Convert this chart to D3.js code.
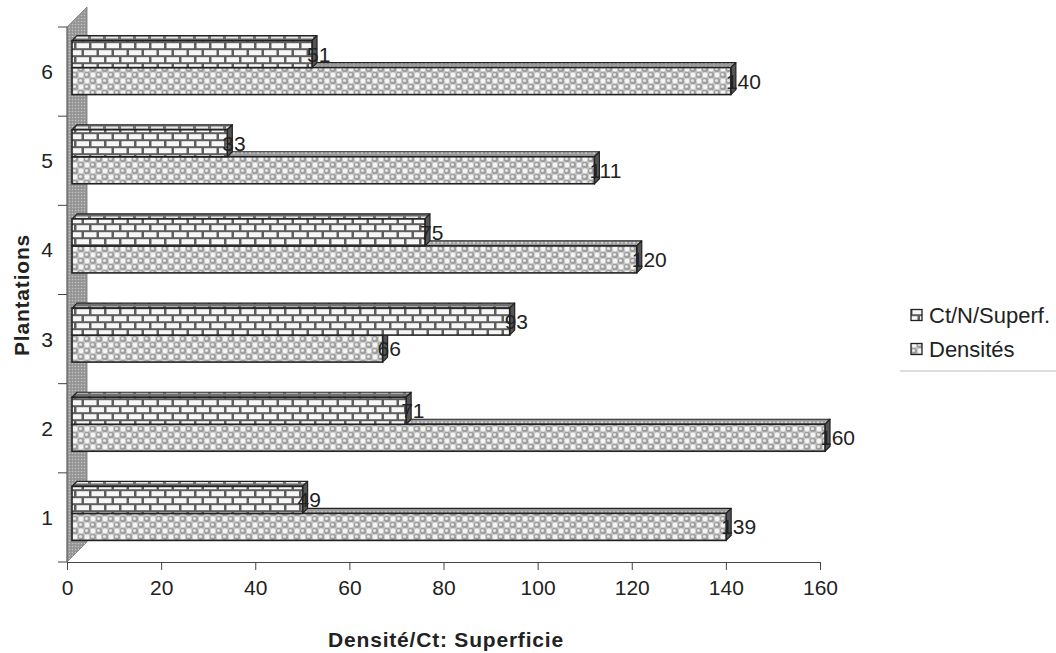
<!DOCTYPE html>
<html>
<head>
<meta charset="utf-8">
<script src="https://cdn.jsdelivr.net/npm/d3@7/dist/d3.min.js"></script>
<style>
  html, body { margin: 0; padding: 0; background: #fff; }
  svg { display: block; }
  text { font-family: "Liberation Sans", Arial, sans-serif; fill: #222; }
</style>
</head>
<body>
<svg id="chart" width="1056" height="653"></svg>
<script>
// Plantations, bottom to top
const categories = ["1", "2", "3", "4", "5", "6"];
// Ct/N/Superf. per plantation
const ctValues = [49, 71, 93, 75, 33, 51];
// Densités per plantation
const densValues = [139, 160, 66, 120, 111, 140];
const xTicks = [0, 20, 40, 60, 80, 100, 120, 140, 160];
const seriesNames = ["Ct/N/Superf.", "Densités"];
const xTitle = "Densité/Ct: Superficie";
const yTitle = "Plantations";

const svg = d3.select("#chart");
const defs = svg.append("defs");

// ---- fill patterns ----
// brick face
const brick = defs.append("pattern").attr("id", "brick")
  .attr("patternUnits", "userSpaceOnUse").attr("width", 15).attr("height", 14);
brick.append("rect").attr("width", 15).attr("height", 14).attr("fill", "#5e5e5e");
[[1.5, 1.2], [-6, 8.2], [9, 8.2]].forEach(([bx, by]) =>
  brick.append("rect").attr("x", bx).attr("y", by).attr("width", 12.5).attr("height", 5).attr("fill", "#f6f6f6"));

// brick top face (foreshortened)
const brickTop = defs.append("pattern").attr("id", "brickTop")
  .attr("patternUnits", "userSpaceOnUse").attr("width", 15).attr("height", 5);
brickTop.append("rect").attr("width", 15).attr("height", 5).attr("fill", "#707070");
brickTop.append("rect").attr("x", 1).attr("y", 1.5).attr("width", 12).attr("height", 2).attr("fill", "#e8e8e8");

// mottled face for Densités
const bub = defs.append("pattern").attr("id", "bubble")
  .attr("patternUnits", "userSpaceOnUse").attr("width", 12).attr("height", 12);
bub.append("rect").attr("width", 12).attr("height", 12).attr("fill", "#c6c6c6");
[[3, 3], [9, 9]].forEach(([cx, cy]) => {
  bub.append("circle").attr("cx", cx).attr("cy", cy).attr("r", 3.2).attr("fill", "#9e9e9e");
  bub.append("circle").attr("cx", cx - 0.5).attr("cy", cy - 0.5).attr("r", 1.6).attr("fill", "#e6e6e6");
});
[[9, 3], [3, 9]].forEach(([cx, cy]) =>
  bub.append("circle").attr("cx", cx).attr("cy", cy).attr("r", 2.4).attr("fill", "#f4f4f4"));

const bubTop = defs.append("pattern").attr("id", "bubbleTop")
  .attr("patternUnits", "userSpaceOnUse").attr("width", 8).attr("height", 5);
bubTop.append("rect").attr("width", 8).attr("height", 5).attr("fill", "#9a9a9a");
bubTop.append("circle").attr("cx", 2).attr("cy", 2.5).attr("r", 1.3).attr("fill", "#d8d8d8");
bubTop.append("circle").attr("cx", 6).attr("cy", 2.5).attr("r", 1.3).attr("fill", "#c4c4c4");

// grainy wall
const wallP = defs.append("pattern").attr("id", "wall")
  .attr("patternUnits", "userSpaceOnUse").attr("width", 3).attr("height", 3);
wallP.append("rect").attr("width", 3).attr("height", 3).attr("fill", "#9c9c9c");
wallP.append("rect").attr("x", 0).attr("y", 0).attr("width", 1).attr("height", 1).attr("fill", "#c4c4c4");
wallP.append("rect").attr("x", 1.5).attr("y", 1.5).attr("width", 1).attr("height", 1).attr("fill", "#7e7e7e");

// ---- scales ----
const x = d3.scaleLinear().domain([0, 160]).range([67, 820]);
const y = d3.scaleBand().domain(categories).range([562, 27]);
const floorY = 562;

// depth offsets for the oblique 3-D look
const wallDepth = { x: 20, y: -20 };
const barShift = { x: 5, y: -4 };
const barDepth = { x: 5, y: -5 };
const barH = 27;

// ---- wall ----
const x0 = x(0), yTop = y.range()[1];
svg.append("path")
  .attr("d", `M${x0},${floorY} L${x0},${yTop} L${x0 + wallDepth.x},${yTop + wallDepth.y} L${x0 + wallDepth.x},${floorY + wallDepth.y} Z`)
  .attr("fill", "url(#wall)").attr("stroke", "#777").attr("stroke-width", 0.8);

// ---- x axis ----
const xAxis = svg.append("g").attr("transform", `translate(0,${floorY})`)
  .call(d3.axisBottom(x).tickValues(xTicks).tickSize(8).tickPadding(10).tickFormat(d3.format("d")));
xAxis.select(".domain").attr("stroke", "#444").attr("stroke-width", 1);
xAxis.selectAll(".tick line").attr("stroke", "#444");
xAxis.selectAll(".tick text").style("font-size", "21px").attr("fill", "#222")
  .style("font-family", '"Liberation Sans", Arial, sans-serif');

// ---- category axis: ticks at band edges, labels at centres ----
const edges = categories.map(c => y(c)).concat([floorY]);
svg.append("g").selectAll("line").data(edges).join("line")
  .attr("x1", x0 - 9).attr("x2", x0).attr("y1", d => d).attr("y2", d => d)
  .attr("stroke", "#444");
svg.append("line").attr("x1", x0).attr("x2", x0).attr("y1", yTop).attr("y2", floorY)
  .attr("stroke", "#555").attr("stroke-width", 0.8);
svg.append("g").selectAll("text").data(categories).join("text")
  .attr("x", 47).attr("y", d => y(d) + y.bandwidth() / 2)
  .attr("text-anchor", "middle").attr("dominant-baseline", "central")
  .style("font-size", "21px").text(d => d);

// ---- bars ----
function box(g, x1, x2, yT, h, face, top, side) {
  const X1 = x1, X2 = x2, Y1 = yT, Y2 = yT + h;
  const dx = barDepth.x, dy = barDepth.y;
  g.append("path").attr("d", `M${X1},${Y1} L${X1 + dx},${Y1 + dy} L${X2 + dx},${Y1 + dy} L${X2},${Y1} Z`)
    .attr("fill", top).attr("stroke", "#222").attr("stroke-width", 1.2).attr("stroke-linejoin", "round");
  g.append("path").attr("d", `M${X2},${Y1} L${X2 + dx},${Y1 + dy} L${X2 + dx},${Y2 + dy} L${X2},${Y2} Z`)
    .attr("fill", side).attr("stroke", "#222").attr("stroke-width", 1.2).attr("stroke-linejoin", "round");
  g.append("rect").attr("x", X1).attr("y", Y1).attr("width", X2 - X1).attr("height", h)
    .attr("fill", face).attr("stroke", "#222").attr("stroke-width", 1.6);
}

const rows = categories.map((c, i) => ({ c, ct: ctValues[i], dens: densValues[i] }));
const barsG = svg.append("g");
rows.slice().reverse().forEach(r => {
  const cy = y(r.c) + y.bandwidth() / 2 + barShift.y;
  const g = barsG.append("g");
  // Densités sits below, drawn first so the Ct bar covers its top face
  box(g, x(0) + barShift.x, x(r.dens) + barShift.x, cy, barH, "url(#bubble)", "url(#bubbleTop)", "#555");
  box(g, x(0) + barShift.x, x(r.ct) + barShift.x, cy - barH, barH, "url(#brick)", "url(#brickTop)", "#555");
});

// value labels at the bar ends
const labels = [];
rows.forEach(r => {
  const cy = y(r.c) + y.bandwidth() / 2 + barShift.y;
  labels.push({ v: r.ct, yc: cy - barH / 2 });
  labels.push({ v: r.dens, yc: cy + barH / 2 });
});
svg.append("g").selectAll("text").data(labels).join("text")
  .attr("x", d => x(d.v) + barShift.x - 5).attr("y", d => d.yc)
  .attr("dominant-baseline", "central").style("font-size", "21px").text(d => d.v);

// ---- axis titles ----
svg.append("text").attr("x", 446).attr("y", 647).attr("text-anchor", "middle")
  .style("font-size", "21px").style("font-weight", "bold").style("letter-spacing", "0.8px").text(xTitle);
svg.append("text").attr("transform", "translate(21,295) rotate(-90)").attr("text-anchor", "middle")
  .attr("dominant-baseline", "central")
  .style("font-size", "21px").style("font-weight", "bold").style("letter-spacing", "0.8px").text(yTitle);

// ---- legend ----
const legend = svg.append("g").attr("transform", "translate(911,0)");
const legendFills = ["url(#brick)", "url(#bubble)"];
const legendY = [315, 349];
seriesNames.forEach((name, i) => {
  legend.append("rect").attr("x", 0).attr("y", legendY[i] - 5.5).attr("width", 11).attr("height", 11)
    .attr("fill", legendFills[i]).attr("stroke", "#222").attr("stroke-width", 1.3);
  legend.append("text").attr("x", 18).attr("y", legendY[i]).attr("dominant-baseline", "central")
    .style("font-size", "22px").text(name);
});
svg.append("line").attr("x1", 900).attr("x2", 1056).attr("y1", 371).attr("y2", 371)
  .attr("stroke", "#bbb").attr("stroke-width", 1);
</script>
</body>
</html>
